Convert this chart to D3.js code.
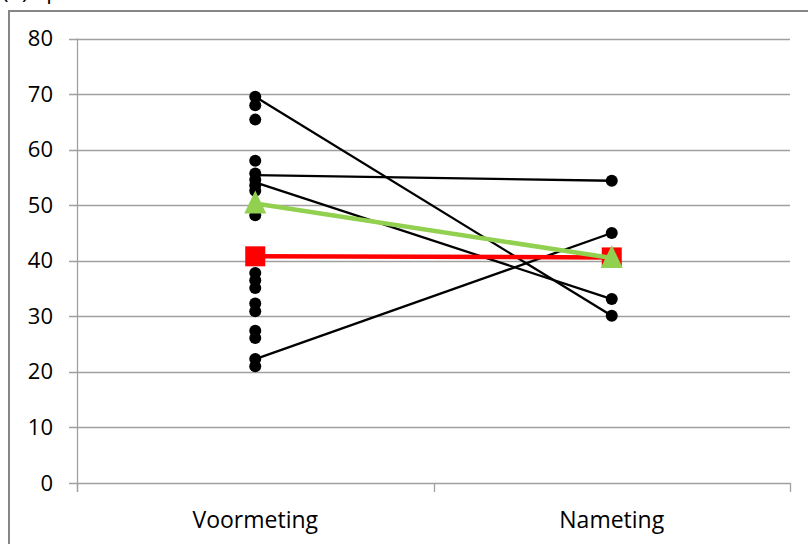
<!DOCTYPE html>
<html>
<head>
<meta charset="utf-8">
<script src="https://cdn.jsdelivr.net/npm/d3@7"></script>
<style>
html,body{margin:0;padding:0;background:#fff;overflow:hidden;}
svg{display:block;}
text{font-family:"Open Sans",sans-serif;fill:#000;}
</style>
</head>
<body>
<svg id="chart" width="808" height="544"></svg>
<script>
// ---- data ----
const categories = ["Voormeting", "Nameting"];
const yTicks = [0, 10, 20, 30, 40, 50, 60, 70, 80];
const preScores = [69.5, 68.0, 65.4, 58.0, 55.7, 54.6, 53.6, 52.6, 48.2,
                   37.8, 36.5, 35.1, 32.3, 30.9, 27.4, 26.1, 22.3, 21.0];
const postScores = [54.4, 45.0, 33.1, 30.1];
const pairedPre  = [69.5, 55.4, 54.1, 22.3];
const pairedPost = [30.1, 54.4, 33.1, 45.0];
const redSeries   = [40.8, 40.6];
const greenSeries = [50.3, 40.5];
const titleText = "(b) Spreken";

// ---- layout ----
const svg = d3.select("#chart");
const plot = {left: 77, right: 790, top: 38.5, bottom: 483};

const x = d3.scaleBand().domain(categories).range([plot.left, plot.right]).paddingInner(0).paddingOuter(0);
const y = d3.scaleLinear().domain([0, 80]).range([plot.bottom, plot.top]);
const cx = c => x(c) + x.bandwidth() / 2;

// outer frame
svg.append("path")
  .attr("d", `M9,${544} L9,11 L${808},11`)
  .attr("fill", "none").attr("stroke", "#868686").attr("stroke-width", 2);

// clipped title (cut off at the top edge, as in the reference)
svg.append("text").attr("x", 2).attr("y", -1)
  .attr("font-size", 22).text(titleText);

// gridlines
svg.append("g").selectAll("line").data(yTicks).join("line")
  .attr("x1", plot.left - 8).attr("x2", plot.right)
  .attr("y1", d => Math.round(y(d)) + 0.5).attr("y2", d => Math.round(y(d)) + 0.5)
  .attr("stroke", "#a0a0a0").attr("stroke-width", 1.3);

// y axis
const yAxis = d3.axisLeft(y).tickValues(yTicks).tickSize(0).tickPadding(24);
const gy = svg.append("g").attr("transform", `translate(${plot.left},0)`).call(yAxis);
gy.select(".domain").remove();
gy.selectAll("text").attr("font-size", 22).attr("font-family", "Open Sans, sans-serif").attr("fill", "#111");
svg.append("line").attr("x1", plot.left + 0.5).attr("x2", plot.left + 0.5)
  .attr("y1", plot.top).attr("y2", plot.bottom + 9)
  .attr("stroke", "#a0a0a0").attr("stroke-width", 1.3);

// x axis
const xAxis = d3.axisBottom(x).tickSize(0).tickPadding(29);
const gx = svg.append("g").attr("transform", `translate(0,${plot.bottom})`).call(xAxis);
gx.select(".domain").remove();
gx.selectAll("text").attr("font-size", 23).attr("font-family", "Open Sans, sans-serif").attr("fill", "#111");
// category boundary ticks
const boundaries = [plot.left, x(categories[1]), plot.right];
svg.append("g").selectAll("line").data(boundaries).join("line")
  .attr("x1", d => Math.round(d) + 0.5).attr("x2", d => Math.round(d) + 0.5)
  .attr("y1", plot.bottom).attr("y2", plot.bottom + 9)
  .attr("stroke", "#a0a0a0").attr("stroke-width", 1.3);

// paired black lines
svg.append("g").selectAll("line").data(pairedPre.map((v, i) => [v, pairedPost[i]])).join("line")
  .attr("x1", cx(categories[0])).attr("y1", d => y(d[0]))
  .attr("x2", cx(categories[1])).attr("y2", d => y(d[1]))
  .attr("stroke", "#000").attr("stroke-width", 2.3);

// dots
const dots = preScores.map(v => [categories[0], v]).concat(postScores.map(v => [categories[1], v]));
svg.append("g").selectAll("circle").data(dots).join("circle")
  .attr("cx", d => cx(d[0])).attr("cy", d => y(d[1])).attr("r", 6)
  .attr("fill", "#000");

// red series
const line = d3.line().x((d, i) => cx(categories[i])).y(d => y(d));
svg.append("path").datum(redSeries).attr("d", line)
  .attr("fill", "none").attr("stroke", "#ff0000").attr("stroke-width", 4.5);
svg.append("g").selectAll("rect").data(redSeries).join("rect")
  .attr("x", (d, i) => cx(categories[i]) - 10).attr("y", d => y(d) - 10)
  .attr("width", 20).attr("height", 20).attr("fill", "#ff0000");

// green series
svg.append("path").datum(greenSeries).attr("d", line)
  .attr("fill", "none").attr("stroke", "#92d050").attr("stroke-width", 4.5);
svg.append("g").selectAll("path.tri").data(greenSeries).join("path")
  .attr("class", "tri")
  .attr("d", (d, i) => {
    const px = cx(categories[i]), py = y(d);
    return `M${px},${py - 13} L${px + 11},${py + 10} L${px - 11},${py + 10} Z`;
  })
  .attr("fill", "#92d050");
</script>
</body>
</html>
